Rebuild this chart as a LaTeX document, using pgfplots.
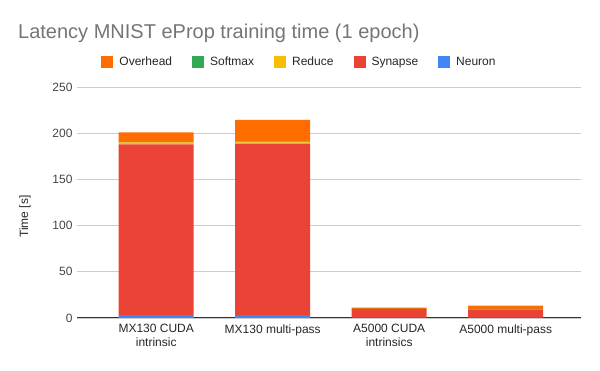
\documentclass[border=0pt]{standalone}
\usepackage{pgfplots}
\pgfplotsset{compat=1.18}
\usepackage{pgfplotstable}
\usepackage{fontspec}
\setmainfont{Liberation Sans}
\definecolor{cNeuron}{HTML}{4285F4}
\definecolor{cSynapse}{HTML}{EA4335}
\definecolor{cReduce}{HTML}{FBBC04}
\definecolor{cSoftmax}{HTML}{34A853}
\definecolor{cOverhead}{HTML}{FF6D01}
\definecolor{cTitle}{HTML}{757575}
\definecolor{cText}{HTML}{444444}
\definecolor{cGrid}{HTML}{CCCCCC}
\definecolor{cAxis}{HTML}{333333}
\pgfplotstableread{
x neuron synapse reduce softmax overhead
0 3.0 185.0 2.0 0.3 10.5
1 3.0 185.5 1.5 0.8 23.5
2 0.3 9.2 0.2 0.1 1.3
3 0.3 9.1 0.2 0.3 3.4
}\data
\begin{document}
\begin{tikzpicture}[x=1pt,y=1pt]
\path[use as bounding box] (0,0) rectangle (600,371);
\node[anchor=west, text=cTitle, font=\fontsize{20}{23}\selectfont, inner sep=0pt] at (18,338) {Latency MNIST eProp training time (1 epoch)};
\begin{axis}[
  at={(77pt,53pt)}, anchor=south west,
  scale only axis, width=504pt, height=231pt,
  ybar stacked, bar width=75pt,
  xmin=-0.68, xmax=3.646, ymin=0, ymax=250,
  xtick={0,1,2,3},
  xticklabels={{MX130 CUDA\\intrinsic},{MX130 multi-pass},{A5000 CUDA\\intrinsics},{A5000 multi-pass}},
  xticklabel style={align=center, font=\fontsize{12}{14}\selectfont, text=black!85, yshift=-3pt},
  ytick={0,50,100,150,200,250},
  yticklabel style={font=\fontsize{12}{14}\selectfont, text=cText, xshift=-1pt},
  /pgf/number format/assume math mode=true,
  major tick length=0pt,
  ymajorgrids, grid style={cGrid, line width=0.8pt},
  axis line style={draw=none},
  axis x line*=bottom,
  x axis line style={draw=cAxis, line width=1pt},
  ylabel={Time [s]},
  every axis y label/.style={at={(axis description cs:-0.103,0.439)}, rotate=90, anchor=center,
     font=\fontsize{12}{14}\selectfont, text=black!85},
  legend style={at={(axis description cs:0.4415,1.1082)}, anchor=center, draw=none, fill=none,
     font=\fontsize{12}{14}\selectfont, text=black!85,
     /tikz/every even column/.append style={column sep=18pt}},
  legend columns=5, reverse legend,
  legend image code/.code={\fill[#1] (0pt,-6pt) rectangle (12pt,6pt); \path (16pt,0pt);},
]
\addplot[fill=cNeuron, draw=none] table[x=x,y=neuron] {\data};
\addplot[fill=cSynapse, draw=none] table[x=x,y=synapse] {\data};
\addplot[fill=cReduce, draw=none] table[x=x,y=reduce] {\data};
\addplot[fill=cSoftmax, draw=none] table[x=x,y=softmax] {\data};
\addplot[fill=cOverhead, draw=none] table[x=x,y=overhead] {\data};
\legend{Neuron,Synapse,Reduce,Softmax,Overhead}
\end{axis}
\end{tikzpicture}
\end{document}
